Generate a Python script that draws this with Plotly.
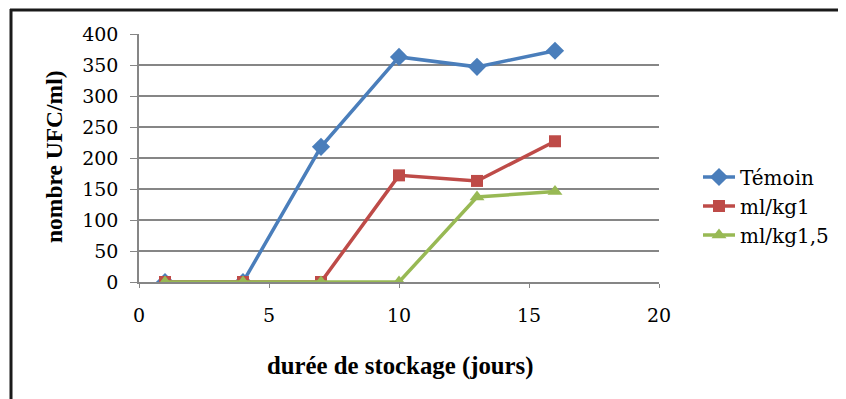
import plotly.graph_objects as go

days = [1, 4, 7, 10, 13, 16]
temoin = [0, 0, 218, 363, 347, 373]
mlkg1 = [0, 0, 0, 172, 163, 227]
mlkg15 = [0, 0, 0, 0, 137, 146]
series_names = ["Témoin", "ml/kg1", "ml/kg1,5"]
x_ticks = [0, 5, 10, 15, 20]
y_ticks = [0, 50, 100, 150, 200, 250, 300, 350, 400]
x_title = "durée de stockage (jours)"
y_title = "nombre UFC/ml)"

REG = "DejaVu Serif"
BOLD = "Liberation Serif"

fig = go.Figure()
styles = [
    ("#4a7ebb", "diamond", 14),
    ("#be4b48", "square", 12),
    ("#98b954", "triangle-up", 13),
]
for name, vals, (col, sym, sz) in zip(series_names, [temoin, mlkg1, mlkg15], styles):
    fig.add_trace(go.Scatter(
        x=days, y=vals, name=name, mode="lines+markers",
        line=dict(color=col, width=3.5),
        marker=dict(symbol=sym, size=sz, color=col),
    ))

# page body has an 8px margin, so the figure is offset by 8px
fig.update_layout(
    template="none",
    width=838, height=391,
    margin=dict(l=131, r=187, t=26, b=117, autoexpand=False),
    paper_bgcolor="white", plot_bgcolor="white",
    font=dict(family=REG, color="black", size=19),
    showlegend=True,
    legend=dict(x=1.075, y=(282 - 206) / 248, xanchor="left", yanchor="middle",
                font=dict(family=REG, size=20, color="black"),
                itemwidth=32,
                tracegroupgap=0, bgcolor="rgba(0,0,0,0)"),
    xaxis=dict(range=[0, 20], tickvals=x_ticks, showgrid=False, zeroline=False,
               showline=True, linecolor="#868686", linewidth=1.5,
               ticks="outside", ticklen=4, tickcolor="#868686",
               ticklabelstandoff=11,
               tickfont=dict(family=REG, size=19)),
    yaxis=dict(range=[0, 400], tickvals=y_ticks, showgrid=True, gridcolor="#868686",
               gridwidth=1.5, zeroline=False,
               showline=True, linecolor="#868686", linewidth=1.5,
               ticks="outside", ticklen=7, tickcolor="#868686",
               ticklabelstandoff=8,
               tickfont=dict(family=REG, size=19)),
)

# axis titles
fig.add_annotation(text="<b>" + x_title + "</b>", xref="paper", yref="paper",
                   x=(400 - 139) / 520, y=(282 - 366) / 248,
                   xanchor="center", yanchor="middle", showarrow=False,
                   font=dict(family=BOLD, size=24.8, color="black"))
fig.add_annotation(text="<b>" + y_title + "</b>", xref="paper", yref="paper",
                   x=(54 - 139) / 520, y=(282 - 157) / 248, textangle=-90,
                   xanchor="center", yanchor="middle", showarrow=False,
                   font=dict(family=BOLD, size=23.5, color="black"))

# outer frame (top and left dark borders), in absolute page pixels
fig.add_shape(type="line", xref="paper", yref="paper",
              x0=(10 - 139) / 520, x1=(846 - 139) / 520,
              y0=(282 - 10) / 248, y1=(282 - 10) / 248,
              line=dict(color="#1a1a1a", width=3))
fig.add_shape(type="line", xref="paper", yref="paper",
              x0=(11 - 139) / 520, x1=(11 - 139) / 520,
              y0=(282 - 9) / 248, y1=(282 - 399) / 248,
              line=dict(color="#1a1a1a", width=3))

fig.write_html("out.html")
